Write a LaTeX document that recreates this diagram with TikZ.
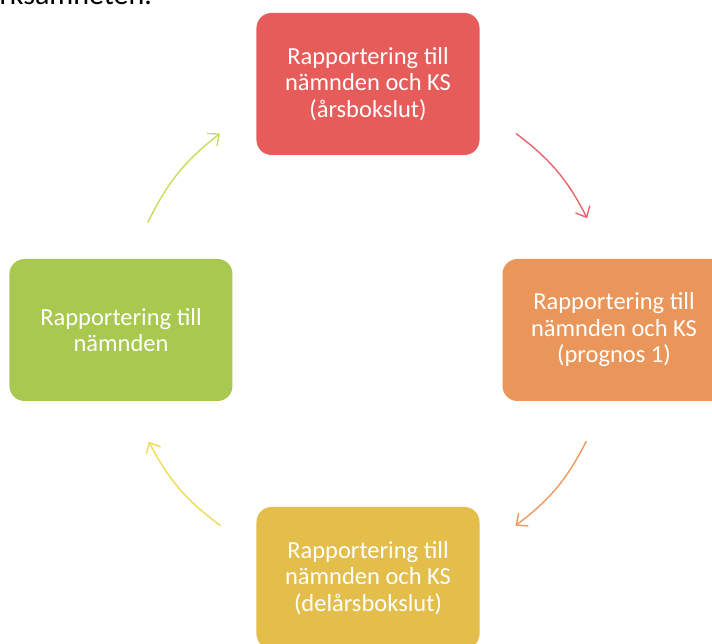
\documentclass[tikz,border=0pt]{standalone}
\usepackage{fontspec}
\setmainfont{Carlito}
\usetikzlibrary{arrows.meta}

\definecolor{boxred}{HTML}{E65C5A}
\definecolor{boxorange}{HTML}{EA965A}
\definecolor{boxyellow}{HTML}{E3BE4B}
\definecolor{boxgreen}{HTML}{A8C850}
\definecolor{arrred}{HTML}{E8636A}
\definecolor{arrorange}{HTML}{EE9A5E}
\definecolor{arryellow}{HTML}{EEDB55}
\definecolor{arrgreen}{HTML}{C6DE58}

\begin{document}
\begin{tikzpicture}[x=1pt,y=1pt,
                box/.style={rounded corners=15pt, minimum width=223pt, minimum height=142pt,
                            align=center, text=white, font=\fontsize{24.5}{26.5}\selectfont},
                cyc/.style={-{Straight Barb[length=9pt,width=16pt]}, line width=1.4pt, bend left=13}]

            \clip (-368,-314) rectangle (344,330);

            \node[anchor=base west, font=\fontsize{30}{30}\selectfont] (head) at (-372,325) {rksamheten.};

            \node[box, fill=boxred] (ars) at (0,246) {Rapportering till\\nämnden och KS\\(årsbokslut)};
            \node[box, fill=boxorange] (prog) at (246,0) {Rapportering till\\nämnden och KS\\(prognos 1)};
            \node[box, fill=boxyellow] (delars) at (0,-248) {Rapportering till\\nämnden och KS\\(delårsbokslut)};
            \node[box, fill=boxgreen] (namnd) at (-247,0) {Rapportering till\\nämnden};

            \coordinate (r1) at (53:246);
            \coordinate (r2) at (27:246);
            \coordinate (o1) at (-27:245);
            \coordinate (o2) at (-53:245);
            \coordinate (y1) at (-127:245);
            \coordinate (y2) at (-153:246);
            \coordinate (g1) at (154:245);
            \coordinate (g2) at (127:246);

            \path
            (r1) edge [cyc, draw=arrred] (r2)
            (o1) edge [cyc, draw=arrorange] (o2)
            (y1) edge [cyc, draw=arryellow] (y2)
            (g1) edge [cyc, draw=arrgreen] (g2);

        \end{tikzpicture}
\end{document}
